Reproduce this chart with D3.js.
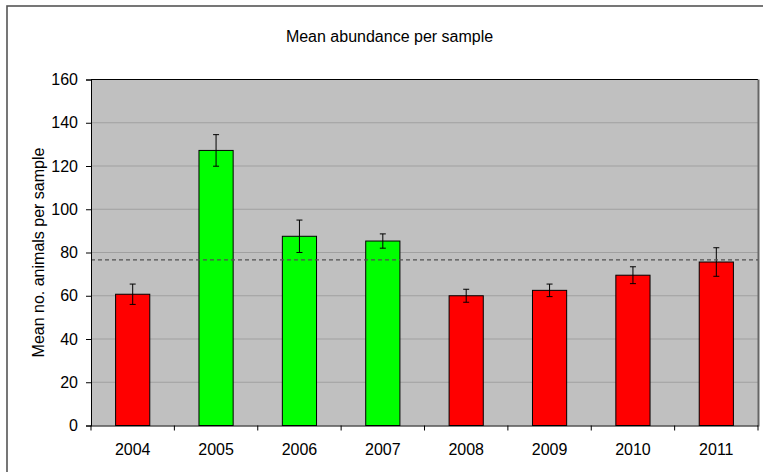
<!DOCTYPE html>
<html>
<head>
<meta charset="utf-8">
<script src="https://cdn.jsdelivr.net/npm/d3@7"></script>
<style>
  body { margin: 0; background: #fff; }
  text { font-family: "Liberation Sans", Arial, sans-serif; }
</style>
</head>
<body>
<div id="chart"></div>
<script>
var years = ["2004", "2005", "2006", "2007", "2008", "2009", "2010", "2011"];
var means = [60.7, 127.2, 87.5, 85.3, 60.0, 62.5, 69.5, 75.6];
var errors = [4.7, 7.3, 7.5, 3.3, 3.0, 2.9, 3.9, 6.6];
var barColors = ["#ff0000", "#00ff00", "#00ff00", "#00ff00", "#ff0000", "#ff0000", "#ff0000", "#ff0000"];
var overallMean = 76.6;
var yTicks = [0, 20, 40, 60, 80, 100, 120, 140, 160];

var svgWidth = 763;
var svgHeight = 472;
var margin = { top: 79.5, right: 5, bottom: 46.5, left: 91 };
var chartwidth = svgWidth - margin.left - margin.right;
var chartheight = svgHeight - margin.top - margin.bottom;

var svg = d3.select("#chart")
  .append("svg")
  .attr("width", svgWidth)
  .attr("height", svgHeight);

// outer frame (runs off the right and bottom edges)
svg.append("rect")
  .attr("x", 7).attr("y", 6)
  .attr("width", svgWidth + 10).attr("height", svgHeight + 10)
  .attr("fill", "none")
  .attr("stroke", "#555")
  .attr("stroke-width", 1.6);

svg.append("text")
  .attr("x", 389.5).attr("y", 41.5)
  .attr("text-anchor", "middle")
  .style("font-size", "16px")
  .text("Mean abundance per sample");

var chartGroup = svg.append("g")
  .attr("transform", `translate(${margin.left}, ${margin.top})`);

var xScale = d3.scaleBand().domain(years).range([0, chartwidth]).paddingInner(0.59).paddingOuter(0.295);
var xEdges = d3.scaleBand().domain(years).range([0, chartwidth]);
var yScale = d3.scaleLinear().domain([0, 160]).range([chartheight, 0]);

chartGroup.append("rect")
  .attr("width", chartwidth).attr("height", chartheight)
  .attr("fill", "#c0c0c0");

// gridlines
chartGroup.selectAll(".grid")
  .data(yTicks.filter(d => d > 0 && d < 160))
  .enter().append("line")
  .attr("x1", 0).attr("x2", chartwidth)
  .attr("y1", d => yScale(d)).attr("y2", d => yScale(d))
  .attr("stroke", "#a0a0a0").attr("stroke-width", 1);

// plot area edges
chartGroup.append("line")
  .attr("x1", 0).attr("x2", chartwidth)
  .attr("y1", 0).attr("y2", 0)
  .attr("stroke", "#000").attr("stroke-width", 1);
chartGroup.append("line")
  .attr("x1", chartwidth + 0.5).attr("x2", chartwidth + 0.5)
  .attr("y1", 0).attr("y2", chartheight + 1)
  .attr("stroke", "#666").attr("stroke-width", 2);

// bars
chartGroup.selectAll(".bar")
  .data(years)
  .enter().append("rect")
  .attr("x", d => xScale(d))
  .attr("y", (d, i) => yScale(means[i]))
  .attr("width", xScale.bandwidth())
  .attr("height", (d, i) => chartheight - yScale(means[i]))
  .attr("fill", (d, i) => barColors[i])
  .attr("stroke", "#000").attr("stroke-width", 1);

// error bars
var eb = chartGroup.selectAll(".err").data(years).enter().append("g")
  .attr("transform", d => `translate(${xScale(d) + xScale.bandwidth() / 2}, 0)`);
eb.append("line")
  .attr("y1", (d, i) => yScale(means[i] + errors[i]))
  .attr("y2", (d, i) => yScale(means[i] - errors[i]))
  .attr("stroke", "#000").attr("stroke-width", 1);
eb.append("line").attr("x1", -3).attr("x2", 3)
  .attr("y1", (d, i) => yScale(means[i] + errors[i]))
  .attr("y2", (d, i) => yScale(means[i] + errors[i]))
  .attr("stroke", "#000");
eb.append("line").attr("x1", -3).attr("x2", 3)
  .attr("y1", (d, i) => yScale(means[i] - errors[i]))
  .attr("y2", (d, i) => yScale(means[i] - errors[i]))
  .attr("stroke", "#000");

// overall mean line
chartGroup.append("line")
  .attr("x1", 0).attr("x2", chartwidth)
  .attr("y1", yScale(overallMean)).attr("y2", yScale(overallMean))
  .attr("stroke", "#505050").attr("stroke-width", 1.3)
  .attr("stroke-dasharray", "4,3");

// axes
var leftAxis = d3.axisLeft(yScale).tickValues(yTicks).tickSize(5).tickPadding(8);
var yAx = chartGroup.append("g").call(leftAxis);
yAx.select(".domain").attr("stroke", "#000");
yAx.selectAll("text").style("font-size", "16px").attr("fill", "#000");

var bottomAxis = d3.axisBottom(xEdges).tickSize(0).tickPadding(18);
var xAx = chartGroup.append("g")
  .attr("transform", `translate(0, ${chartheight})`)
  .call(bottomAxis);
xAx.select(".domain").attr("stroke", "#000").attr("d", `M0,0.5H${chartwidth}`);
xAx.selectAll("text").style("font-size", "16px").attr("fill", "#000");
chartGroup.append("g").selectAll("line")
  .data(years.concat(["end"]))
  .enter().append("line")
  .attr("x1", (d, i) => i * xEdges.step()).attr("x2", (d, i) => i * xEdges.step())
  .attr("y1", chartheight).attr("y2", chartheight + 5)
  .attr("stroke", "#000");

chartGroup.append("text")
  .attr("transform", "rotate(-90)")
  .attr("x", -chartheight / 2)
  .attr("y", -margin.left + 44)
  .attr("text-anchor", "middle")
  .style("font-size", "16px")
  .text("Mean no. animals per sample");
</script>
</body>
</html>
